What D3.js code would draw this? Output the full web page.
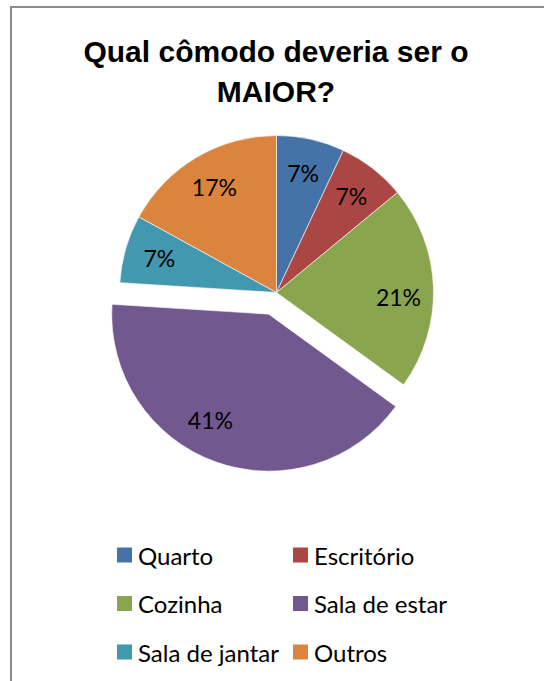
<!DOCTYPE html>
<html>
<head>
<meta charset="utf-8">
<script src="https://cdn.jsdelivr.net/npm/d3@7"></script>
<style>
  body { margin: 0; background: #fff; }
  svg { display: block; }
  .title { font-family: 'Liberation Sans', Arial, sans-serif; font-weight: bold; font-size: 30px; }
  .label { font-family: Lato, 'Open Sans', sans-serif; font-size: 23px; fill: #000; }
  .legend text { font-family: Lato, 'Open Sans', sans-serif; font-size: 24px; fill: #000; }
</style>
</head>
<body>
<div id="chart"></div>
<script>
// data (percent shown on each slice)
const categories = ['Quarto', 'Escritório', 'Cozinha', 'Sala de estar', 'Sala de jantar', 'Outros']
const percents = [7, 7, 21, 41, 7, 17]
const colorList = ['#4572a7', '#aa4643', '#89a54e', '#71588f', '#4198af', '#db843d']
const exploded = ['Sala de estar']

const width = 544
const height = 681
const cx = 276.5
const cy = 292.5
const radius = 157
const labelRadius = 122
const explodeOffset = 23
// excel "best fit" nudges for a couple of labels
const labelNudge = { 'Cozinha': [0, 8], 'Sala de estar': [-17, -9] }

const svg = d3.select('#chart')
  .append('svg')
  .attr('width', width)
  .attr('height', height)

// frame
svg.append('path')
  .attr('d', `M11,${height + 2} V7 H${width + 2}`)
  .attr('fill', 'none')
  .attr('stroke', '#8c8c8c')
  .attr('stroke-width', 2)

const title = svg.append('text')
  .attr('class', 'title')
  .attr('text-anchor', 'middle')
title.append('tspan').attr('x', 276).attr('y', 62).text('Qual cômodo deveria ser o')
title.append('tspan').attr('x', 276).attr('y', 102).text('MAIOR?')

const color = d3.scaleOrdinal().domain(categories).range(colorList)
const data = categories.map((c, i) => ({ name: c, value: percents[i] }))

const pie = d3.pie().sort(null).value(d => d.value)
const arc = d3.arc().innerRadius(0).outerRadius(radius)
const labelArc = d3.arc().innerRadius(labelRadius).outerRadius(labelRadius)

function offset(d) {
  if (!exploded.includes(d.data.name)) return [0, 0]
  const a = (d.startAngle + d.endAngle) / 2
  return [Math.sin(a) * explodeOffset, -Math.cos(a) * explodeOffset]
}

const g = svg.append('g').attr('transform', `translate(${cx},${cy})`)

const slices = g.selectAll('g.slice')
  .data(pie(data))
  .join('g')
  .attr('class', 'slice')
  .attr('transform', d => `translate(${offset(d)})`)

slices.append('path')
  .attr('d', arc)
  .attr('fill', d => color(d.data.name))
  .attr('stroke', '#fff')
  .attr('stroke-width', 0.6)

slices.append('text')
  .attr('class', 'label')
  .attr('text-anchor', 'middle')
  .attr('dominant-baseline', 'central')
  .attr('transform', d => {
    const [x, y] = labelArc.centroid(d)
    const [nx, ny] = labelNudge[d.data.name] || [0, 0]
    return `translate(${x + nx},${y + ny})`
  })
  .text(d => d.value + '%')

// legend
const legendCol = d3.scalePoint().domain([0, 1]).range([117, 293])
const legendRow = d3.scalePoint().domain([0, 1, 2]).range([555, 652])

const legend = svg.append('g').attr('class', 'legend')
  .selectAll('g')
  .data(categories)
  .join('g')
  .attr('transform', (d, i) => `translate(${legendCol(i % 2)},${legendRow(Math.floor(i / 2))})`)

legend.append('rect')
  .attr('x', 0)
  .attr('y', -7.5)
  .attr('width', 15)
  .attr('height', 15)
  .attr('fill', d => color(d))

legend.append('text')
  .attr('x', 21)
  .attr('y', 0)
  .attr('dominant-baseline', 'central')
  .text(d => d)
</script>
</body>
</html>
